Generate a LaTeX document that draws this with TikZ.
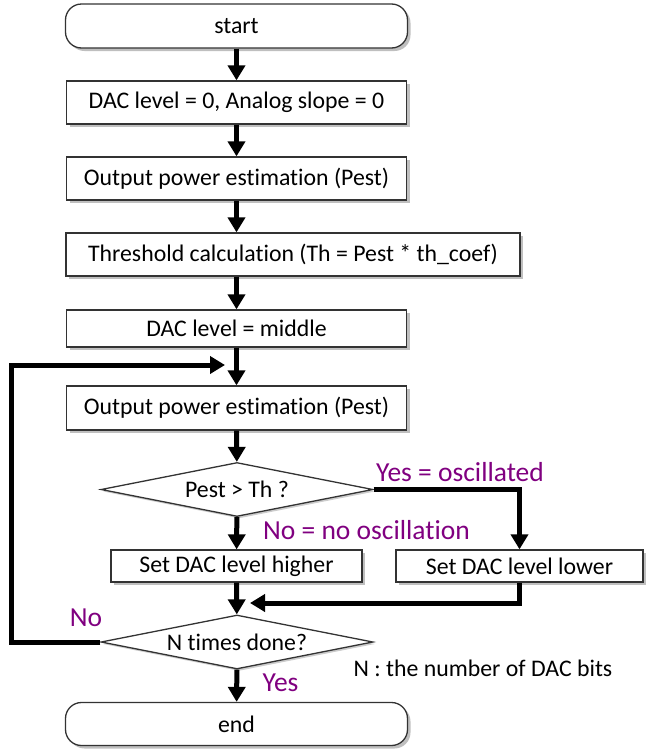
\documentclass[tikz,border=0pt]{standalone}
\usepackage{fontspec}
\setmainfont[Ligatures=NoCommon]{Carlito}
\usetikzlibrary{shapes.geometric,arrows.meta,shadows}
\definecolor{answerpurple}{RGB}{128,0,128}
\tikzset{
  box/.style={draw=black!80, line width=1.3pt, fill=white, minimum width=340pt,
    minimum height=43pt, inner sep=0pt,
    drop shadow={shadow xshift=3pt, shadow yshift=-3pt, fill=black!50, opacity=.5}},
  term/.style={box, rounded corners=16pt, minimum width=342pt},
  decide/.style={diamond, aspect=5, draw=black!80, line width=1.3pt, fill=white,
    minimum width=272pt, minimum height=54pt, inner sep=0pt,
    drop shadow={shadow xshift=2pt, shadow yshift=-2pt, fill=black!50, opacity=.4}},
  flow/.style={line width=5pt, -{Triangle[width=17pt,length=15pt]}},
  answer/.style={text=answerpurple, font=\fontsize{27.5}{30}\selectfont},
}
\begin{document}
\begin{tikzpicture}[x=1pt, y=-1pt, font=\fontsize{23.8}{27}\selectfont]
    \useasboundingbox (0,0) rectangle (646,750);
    % main column
    \node[term, minimum height=44pt] (start) at (236.5,26) {start};
    \node[box] (init) at (236.5,102.5) {DAC level = 0, Analog slope = 0};
    \node[box] (est1) at (236.5,178.5) {Output power estimation (Pest)};
    \node[box, minimum width=454pt] (thres) at (293,254.5) {Threshold calculation (Th = Pest * th\_coef)};
    \node[box, minimum height=37pt] (mid) at (236.5,328.5) {DAC level = middle};
    \node[box, minimum height=44pt] (est2) at (236.5,408) {Output power estimation (Pest)};
    \node[decide] (cmp) at (237,489.5) {Pest > Th ?};
    \node[box, minimum width=251pt, minimum height=32pt] (higher) at (236.5,566) {Set DAC level higher};
    \node[box, minimum width=247pt, minimum height=32pt] (lower) at (519.5,566) {Set DAC level lower};
    \node[decide] (done) at (237,642) {N times done?};
    \node[term] (stop) at (236.5,724) {end};
    % free ends
    \coordinate (back) at (11,365);
    \coordinate (loopin) at (225,365);
    \coordinate (merge) at (250,603);
    % connectors
    \draw[flow] (start) -- (init);
    \draw[flow] (init) -- (est1);
    \draw[flow] (est1) -- (est1 |- thres.north);
    \draw[flow] (thres.south -| mid) -- (mid);
    \draw[flow] (mid) -- (est2);
    \draw[flow] (est2) -- (cmp);
    \draw[flow] (cmp) -- (higher);
    \draw[flow] (cmp.east) -| (lower.north);
    \draw[flow] (higher) -- (done);
    \draw[flow] (lower.south) |- (merge);
    \draw[flow] (done.west) -| (back) -- (loopin);
    \draw[flow] (done) -- (stop);
    % labels
    \node[answer] (yesosc) at (460,472) {Yes = oscillated};
    \node[answer] (noosc) at (366.5,530) {No = no oscillation};
    \node[answer] (nolbl) at (86,618) {No};
    \node[answer] (yeslbl) at (280.5,683) {Yes};
    \node (nbits) at (483,668) {N : the number of DAC bits};
\end{tikzpicture}
\end{document}
